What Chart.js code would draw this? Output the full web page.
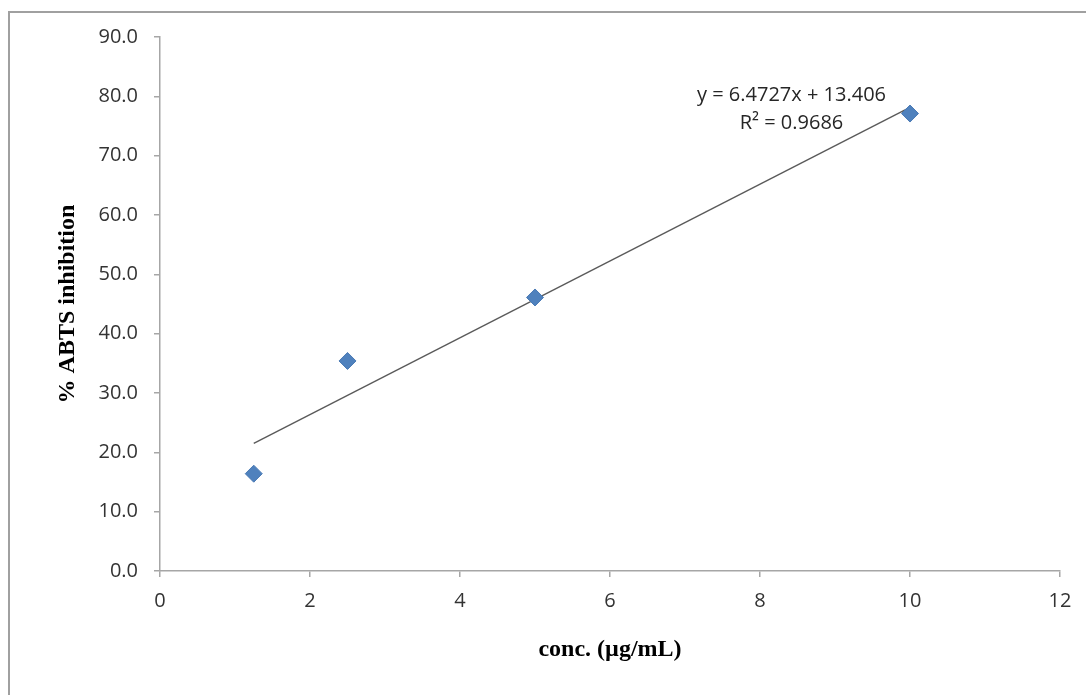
<!DOCTYPE html>
<html>
<head>
<meta charset="utf-8">
<title>% ABTS inhibition vs concentration</title>
<script src="https://cdn.jsdelivr.net/npm/chart.js@4.4.1/dist/chart.umd.min.js"></script>
<style>
  html, body { margin: 0; padding: 0; background: #ffffff; }
  #wrap { position: relative; width: 1086px; height: 695px; }
</style>
</head>
<body>
<div id="wrap"><canvas id="chart" width="1086" height="695"></canvas></div>
<script>
// Measured concentrations (µg/mL) and % ABTS inhibition
const concentrations = [1.25, 2.5, 5, 10];
const inhibition = [16.4, 35.4, 46.1, 77.1];

// Linear trendline coefficients and fit quality
const slope = 6.4727;
const intercept = 13.406;
const rSquared = 0.9686;

// Axis ranges and tick steps
const xRange = [0, 12];
const xStep = 2;
const yRange = [0, 90];
const yStep = 10;

const points = concentrations.map((c, i) => ({ x: c, y: inhibition[i] }));
const xFirst = concentrations[0];
const xLast = concentrations[concentrations.length - 1];
const trend = [
  { x: xFirst, y: slope * xFirst + intercept },
  { x: xLast, y: slope * xLast + intercept }
];

const equationLines = [
  'y = ' + slope.toFixed(4) + 'x + ' + intercept.toFixed(3),
  'R\u00B2 = ' + rSquared.toFixed(4)
];

const axisGray = '#a6a6a6';
const tickFont = { family: '"Open Sans", "Liberation Sans", sans-serif', size: 20 };
const titleFont = { family: '"Liberation Serif", "Times New Roman", serif', size: 24, weight: 'bold' };

// Frame around the plot and the trendline equation text
const decorations = {
  id: 'decorations',
  beforeDraw(chart) {
    const ctx = chart.ctx;
    ctx.save();
    ctx.fillStyle = '#ffffff';
    ctx.fillRect(0, 0, chart.width, chart.height);
    ctx.strokeStyle = '#a0a0a0';
    ctx.lineWidth = 2;
    ctx.beginPath();
    ctx.moveTo(9, chart.height + 2);
    ctx.lineTo(9, 12);
    ctx.lineTo(chart.width + 2, 12);
    ctx.stroke();
    ctx.restore();
  },
  afterDatasetsDraw(chart) {
    const ctx = chart.ctx;
    const xs = chart.scales.x, ys = chart.scales.y;
    const cx = xs.getPixelForValue(8.42);
    const y1 = ys.getPixelForValue(80.2);
    const y2 = ys.getPixelForValue(75.5);
    ctx.save();
    ctx.font = '20px "Open Sans", "Liberation Sans", sans-serif';
    ctx.fillStyle = '#262626';
    ctx.textAlign = 'center';
    ctx.textBaseline = 'middle';
    ctx.fillText(equationLines[0], cx, y1);
    ctx.fillText(equationLines[1], cx, y2);
    ctx.restore();
  }
};

new Chart(document.getElementById('chart'), {
  type: 'scatter',
  data: {
    datasets: [
      {
        label: 'Trendline',
        type: 'line',
        data: trend,
        borderColor: '#5a5a5a',
        borderWidth: 1.4,
        pointRadius: 0,
        fill: false,
        order: 2
      },
      {
        label: '% ABTS inhibition',
        data: points,
        pointStyle: 'rectRot',
        pointRadius: 8.5,
        pointHoverRadius: 8.5,
        backgroundColor: '#4f81bd',
        borderColor: '#4a7ab5',
        borderWidth: 1,
        order: 1
      }
    ]
  },
  options: {
    responsive: false,
    animation: false,
    events: [],
    layout: { padding: { left: 0, top: 37, right: 26, bottom: 0 } },
    plugins: {
      legend: { display: false },
      tooltip: { enabled: false }
    },
    scales: {
      x: {
        type: 'linear',
        min: xRange[0],
        max: xRange[1],
        ticks: { stepSize: xStep, color: '#333333', font: tickFont, padding: 12, maxRotation: 0 },
        grid: { drawOnChartArea: false, drawTicks: true, tickLength: 6, color: axisGray, lineWidth: 1.5 },
        border: { color: axisGray, width: 1.5 },
        title: { display: true, text: 'conc. (\u00B5g/mL)', color: '#000000', font: titleFont, padding: { top: 0, bottom: 31 } },
        afterFit(scale) { scale.height = 124; }
      },
      y: {
        type: 'linear',
        min: yRange[0],
        max: yRange[1],
        ticks: { stepSize: yStep, color: '#333333', font: tickFont, padding: 16, callback: v => Number(v).toFixed(1) },
        grid: { drawOnChartArea: false, drawTicks: true, tickLength: 6, color: axisGray, lineWidth: 1.5 },
        border: { color: axisGray, width: 1.5 },
        title: { display: true, text: '% ABTS inhibition', color: '#000000', font: titleFont, padding: { top: 53, bottom: 0 } },
        afterFit(scale) { scale.width = 160; }
      }
    }
  },
  plugins: [decorations]
});
</script>
</body>
</html>
